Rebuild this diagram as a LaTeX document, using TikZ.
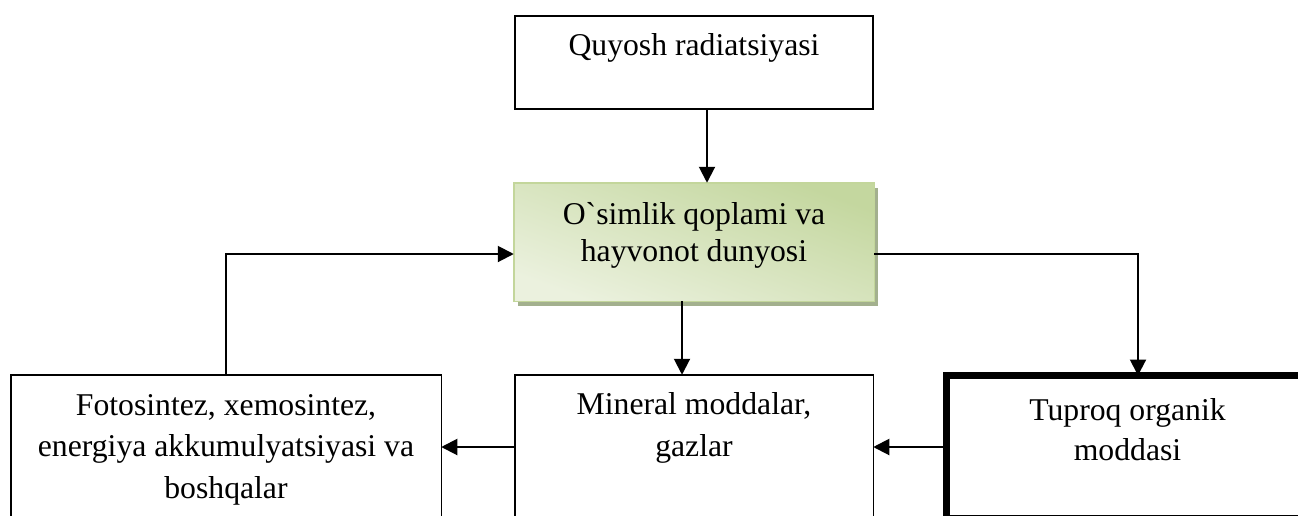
\documentclass[tikz,border=0pt]{standalone}
\usepackage{fontspec}
\setmainfont{Liberation Serif}
\usetikzlibrary{arrows.meta,shadows}
\definecolor{gbord}{HTML}{C3D69B}
\definecolor{gdark}{HTML}{C4D79F}
\definecolor{glight}{HTML}{EBF1DE}
\definecolor{gshadow}{HTML}{A3B08E}
\begin{document}
\begin{tikzpicture}[x=1pt,y=-1pt,
  box/.style={draw=black, anchor=north west, inner sep=0pt, outer sep=0pt, fill=white},
  lbl/.style={anchor=base, inner sep=0pt},
  arr/.style={line width=2pt, -{Triangle[length=16pt,width=16pt]}},
]
\useasboundingbox (0,0) rectangle (1298,515);
\begin{scope}
\clip (0,0) rectangle (1298,515);
% boxes
\node[box, line width=2.2pt, minimum width=357.8pt, minimum height=92.8pt] (sun) at (515.1,16.1) {};
\node[anchor=north west, inner sep=0pt, outer sep=0pt, draw=gbord, line width=1.5pt,
      top color=gdark, bottom color=glight, shading angle=-20,
      drop shadow={shadow xshift=4pt, shadow yshift=-5pt, fill=gshadow, opacity=1},
      minimum width=360.5pt, minimum height=118.5pt] (green) at (513.75,182.75) {};
\node[box, line width=1.5pt, minimum width=430.5pt, minimum height=144.5pt] (fs) at (10.75,374.75) {};
\node[box, line width=1.5pt, minimum width=358.5pt, minimum height=144.5pt] (mid) at (514.75,374.75) {};
\node[box, line width=7pt, minimum width=383pt, minimum height=143pt] (tup) at (946.5,375.5) {};
% texts
\node[lbl] (tsun) at (694,55) {\fontsize{31.7}{42}\selectfont\begin{tabular}[t]{@{}c@{}}Quyosh radiatsiyasi\end{tabular}};
\node[lbl] (tgreen) at (694,224) {\fontsize{31.7}{37}\selectfont\begin{tabular}[t]{@{}c@{}}O\textasciigrave simlik qoplami va\\hayvonot dunyosi\end{tabular}};
\node[lbl] (tfs) at (226,415) {\fontsize{31.7}{41.5}\selectfont\begin{tabular}[t]{@{}c@{}}Fotosintez, xemosintez,\\energiya akkumulyatsiyasi va\\boshqalar\end{tabular}};
\node[lbl] (tmid) at (694,414) {\fontsize{31.7}{42}\selectfont\begin{tabular}[t]{@{}c@{}}Mineral moddalar,\\gazlar\end{tabular}};
\node[lbl] (ttup) at (1127.5,420) {\fontsize{31.7}{40}\selectfont\begin{tabular}[t]{@{}c@{}}Tuproq organik\\moddasi\end{tabular}};
% connectors
\draw[arr] ([xshift=13pt]sun.south) -- ([xshift=13pt]sun.south |- green.north);
\draw[arr] ([xshift=-12pt]green.south) -- ([xshift=-12pt]green.south |- mid.north);
\draw[arr] (fs.north) |- ([yshift=-12pt]green.west);
\draw[arr] ([yshift=-12pt]green.east) -| (tup.north);
\draw[arr] (tup.west) -- (mid.east |- tup.west);
\draw[arr] (mid.west) -- (fs.east |- mid.west);
\end{scope}
\end{tikzpicture}
\end{document}
